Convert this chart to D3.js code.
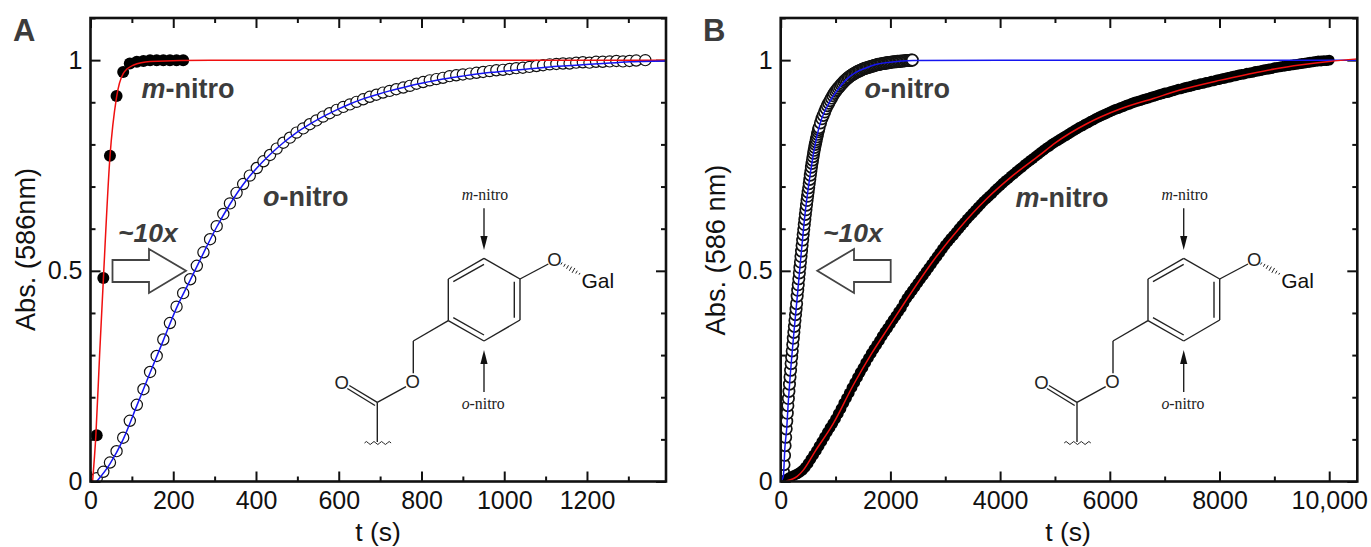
<!DOCTYPE html>
<html>
<head>
<meta charset="utf-8">
<script src="https://cdnjs.cloudflare.com/ajax/libs/d3/7.8.5/d3.min.js"></script>
<style>
  body { margin: 0; background: #fff; }
  svg { display: block; }
  text { font-family: "Liberation Sans", Arial, sans-serif; }
</style>
</head>
<body>
<div class="figure"></div>
<script>
// ---- panel A data
const aTicks = [0, 200, 400, 600, 800, 1000, 1200];
const aMinorTicks = [100, 300, 500, 700, 900, 1100, 1300];
const aTimeM = [15, 31, 47, 63, 79, 95, 112, 128, 144, 160, 176, 192, 208, 224];
const aAbsM = [.11, .483, .773, .915, .972, .992, .996, .998, 1, 1, 1, 1, 1, 1];
const aTimeO = [15, 31, 47, 63, 79, 95, 112, 128, 144, 160, 176, 192, 208, 224, 241, 257, 273, 289, 305, 321,
  337, 353, 369, 385, 402, 418, 434, 450, 466, 482, 498, 514, 530, 546, 562, 578, 595, 611, 627, 643,
  659, 675, 691, 707, 723, 739, 756, 772, 788, 804, 820, 836, 852, 868, 884, 900, 917, 933, 949, 965,
  981, 997, 1013, 1029, 1045, 1061, 1078, 1094, 1110, 1126, 1142, 1158, 1174, 1190, 1206, 1222, 1238, 1255, 1271, 1287,
  1303, 1319, 1341];
const aAbsO = [.008, .023, .045, .072, .104, .144, .182, .219, .26, .298, .337, .376, .415, .447, .48, .512, .544, .575, .606, .635,
  .660, .685, .706, .726, .744, .760, .775, .790, .804, .816, .828, .838, .848, .857, .866, .874, .882, .889, .895, .901,
  .907, .913, .918, .923, .927, .931, .935, .939, .944, .948, .952, .955, .958, .962, .964, .966, .968, .970, .972, .974,
  .976, .977, .979, .981, .982, .984, .986, .988, .990, .991, .992, .992, .994, .995, .994, .996, .996, .997, .998, .997,
  .998, .999, 1];
const aFitTimeM = [5, 13, 22, 31, 47, 63, 79, 103, 144, 290, 1390];
const aFitAbsM = [0, .11, .30, .478, .77, .912, .968, .988, .997, 1, 1];
const aFitTimeO = [15, 47, 79, 112, 144, 176, 208, 241, 273, 305, 337, 369, 402, 434, 466, 498, 530, 562, 595, 627,
  659, 691, 723, 756, 788, 820, 852, 884, 917, 949, 981, 1013, 1045, 1078, 1110, 1142, 1174, 1206, 1238, 1271, 1303, 1335, 1390];
const aFitAbsO = [0, .042, .100, .180, .258, .335, .412, .478, .542, .604, .658, .705, .744, .776, .804, .828, .848, .866, .882, .896,
  .908, .918, .927, .935, .943, .949, .955, .960, .965, .969, .972, .975, .978, .981, .984, .986, .988, .990, .992, .994, .996, .997, .998];

// ---- panel B data
const bTicks = [0, 2000, 4000, 6000, 8000, 10000];
const bMinorTicks = [1000, 3000, 5000, 7000, 9000];
// m-nitro sampled every 50 s, 0 to 10,000
const bStepM = 50;
const bAbsM = [0, .002, .005, .009, .012, .015, .018, .022, .027, .034, .043, .053, .063, .073, .084, .095, .106, .117, .128, .138,
  .149, .161, .173, .186, .198, .210, .223, .235, .247, .259, .270, .282, .293, .304, .314, .324, .334, .345, .355, .364,
  .374, .384, .393, .403, .412, .424, .435, .444, .453, .462, .471, .480, .489, .498, .507, .516, .525, .534, .543, .552,
  .561, .569, .577, .584, .592, .600, .608, .615, .623, .630, .637, .644, .651, .658, .665, .671, .677, .683, .690, .696,
  .702, .708, .714, .719, .725, .730, .736, .741, .746, .752, .757, .762, .767, .772, .777, .782, .787, .792, .796, .801,
  .805, .809, .813, .817, .821, .825, .829, .833, .837, .841, .844, .848, .851, .855, .858, .862, .865, .868, .871, .874,
  .877, .880, .883, .885, .888, .890, .893, .895, .898, .900, .902, .904, .906, .908, .910, .912, .914, .916, .918, .920,
  .922, .923, .925, .927, .929, .931, .932, .934, .936, .937, .939, .941, .942, .944, .945, .947, .948, .950, .951, .953,
  .954, .956, .957, .959, .960, .962, .963, .965, .966, .967, .969, .970, .971, .973, .974, .975, .977, .978, .979, .980,
  .982, .983, .984, .985, .986, .987, .988, .989, .990, .991, .992, .993, .994, .995, .996, .997, .998, .998, .999, .999, 1];
// o-nitro sampled every 10 s to 700 s, then every 25 s
const bTimeO = [...d3.range(0, 701, 10), ...d3.range(725, 2401, 25)];
const bAbsO = [0, .001, .003, .007, .012, .022, .040, .062, .085, .105, .125, .143, .162, .180, .197, .214, .231, .248, .264, .280,
  .295, .310, .325, .340, .354, .368, .382, .396, .409, .422, .440, .454, .467, .481, .495, .508, .521, .534, .547, .560,
  .573, .586, .598, .610, .622, .634, .645, .656, .667, .677, .687, .697, .707, .717, .727, .737, .746, .755, .763, .771,
  .779, .786, .793, .800, .806, .812, .818, .824, .830, .835, .840,
  .851, .861, .869, .877, .885, .892, .898, .904, .910, .916, .921, .926, .930, .934, .938, .942, .945, .949, .952, .955,
  .958, .960, .963, .965, .967, .969, .971, .973, .974, .976, .977, .979, .980, .981, .982, .983, .984, .985, .986, .987,
  .988, .989, .990, .990, .991, .992, .992, .993, .993, .994, .994, .995, .995, .996, .996, .996, .997, .997, .997, .998,
  .998, .998, .999, .999, .999, .999, 1, 1];
const bFitTimeO = [0, 47, 78, 109, 139, 170, 242, 303, 352, 443, 534, 594, 686, 747, 868, 959, 1081, 1203, 1385, 1568, 1750, 1993, 2412, 4000, 10512];
const bFitAbsO = [0, .012, .083, .125, .190, .245, .355, .440, .510, .634, .725, .775, .834, .861, .895, .915, .937, .955, .972, .982, .990, .995, .999, 1, 1];
const bFitTimeM = [100, 300, 412, 625, 960, 1324, 1659, 1993, 2297, 2782, 3269, 3756, 4241, 4727, 5000, 5579, 6186, 6794, 7280, 8000, 8500, 9000, 9500, 10000, 10512];
const bFitAbsM = [.001, .012, .027, .071, .138, .229, .304, .371, .432, .524, .603, .671, .727, .775, .803, .849, .884, .909, .929, .952, .966, .979, .989, .997, 1.003];

const yTicks = [0, 0.5, 1];
const yMinorTicks = [.1, .2, .3, .4, .6, .7, .8, .9, 1.1];
const yTickLabels = { 0: "0", 0.5: "0.5", 1: "1" };

const svgWidth = 1371;
const svgHeight = 547;
const plotTop = 18;
const plotBottom = 481.5;
const grey = "#3c3c3c";

const svg = d3.select(".figure")
    .append("svg")
    .attr("width", svgWidth)
    .attr("height", svgHeight);

// clip the points to the plot area so they stop at the frame
function addClip(id, x) {
    svg.append("clipPath").attr("id", id)
        .append("rect")
        .attr("x", x.range()[0]).attr("y", plotTop)
        .attr("width", x.range()[1] - x.range()[0]).attr("height", plotBottom - plotTop);
}

// inward ticks on all four sides
function drawAxes(g, x, y, ticks, minor, xFormat) {
    const [x0, x1] = x.range();
    const addAxis = (axis, tx, ty, values, size, fmt, padding) => {
        const a = g.append("g")
            .attr("transform", `translate(${tx},${ty})`)
            .call(axis.tickValues(values).tickSizeOuter(0).tickSizeInner(-size).tickPadding(padding).tickFormat(fmt));
        a.select(".domain").remove();
        a.selectAll("line").attr("stroke", "#111").attr("stroke-width", 2);
        a.selectAll("text").attr("font-size", 25).attr("fill", "#111")
            .style("font-family", '"Liberation Sans", Arial, sans-serif');
        return a;
    };
    addAxis(d3.axisBottom(x), 0, plotBottom, ticks, 10, xFormat, 9.5);
    addAxis(d3.axisBottom(x), 0, plotBottom, minor, 5, () => "", 9);
    addAxis(d3.axisTop(x), 0, plotTop, ticks, 10, () => "", 9);
    addAxis(d3.axisTop(x), 0, plotTop, minor, 5, () => "", 9);
    addAxis(d3.axisLeft(y), x0, 0, yTicks, 10, d => yTickLabels[d], 8);
    addAxis(d3.axisLeft(y), x0, 0, yMinorTicks, 5, () => "", 8);
    addAxis(d3.axisRight(y), x1, 0, yTicks, 10, () => "", 8);
    addAxis(d3.axisRight(y), x1, 0, yMinorTicks, 5, () => "", 8);
}

function drawFrame(g, x) {
    const [x0, x1] = x.range();
    g.append("rect")
        .attr("x", x0).attr("y", plotTop)
        .attr("width", x1 - x0).attr("height", plotBottom - plotTop)
        .attr("fill", "none").attr("stroke", "#111").attr("stroke-width", 2.6);
}

function drawPoints(g, x, y, times, values, fill, r, strokeWidth, clipId) {
    g.append("g")
        .attr("clip-path", `url(#${clipId})`)
        .selectAll("circle")
        .data(d3.zip(times, values))
        .enter()
        .append("circle")
        .attr("cx", d => x(d[0]))
        .attr("cy", d => y(d[1]))
        .attr("r", r)
        .attr("fill", fill)
        .attr("stroke", "#111")
        .attr("stroke-width", strokeWidth);
}

function drawFit(g, x, y, times, values, color) {
    const line = d3.line()
        .x(d => x(d[0]))
        .y(d => y(d[1]))
        .curve(d3.curveMonotoneX);
    g.append("path")
        .attr("d", line(d3.zip(times, values)))
        .attr("fill", "none")
        .attr("stroke", color)
        .attr("stroke-width", 1.5);
}

function label(g, str, px, py, size, weight, style, fill, anchor) {
    return g.append("text")
        .text(str)
        .attr("x", px).attr("y", py)
        .attr("font-size", size)
        .attr("font-weight", weight)
        .attr("font-style", style)
        .attr("fill", fill)
        .attr("text-anchor", anchor || "start");
}

// bold italic prefix + bold rest, e.g. m-nitro
function nitroLabel(g, prefix, px, py) {
    const t = g.append("text").attr("x", px).attr("y", py)
        .attr("font-size", 27).attr("font-weight", "bold").attr("fill", grey);
    t.append("tspan").attr("font-style", "italic").text(prefix);
    t.append("tspan").text("-nitro");
}

function drawArrow(g, pts) {
    g.append("path")
        .attr("d", d3.line()(pts) + "Z")
        .attr("fill", "white")
        .attr("stroke", "#444")
        .attr("stroke-width", 1.8)
        .attr("stroke-linejoin", "miter");
}

// the little molecule, drawn in panel A coordinates and shifted for panel B
function drawMolecule(g, dx) {
    const s = g.append("g").attr("transform", `translate(${dx},0)`);
    const bonds = [
        [484, 258.3, 520, 279], [520, 279, 520, 320], [520, 320, 484, 341],
        [484, 341, 448.3, 320.7], [448.3, 320.7, 448.3, 279], [448.3, 279, 484, 258.3],
        [453.3, 281.7, 484, 264.3], [514.3, 281.7, 514.3, 317.7], [453.3, 317.7, 484, 335],
        [520, 279, 548.3, 264],
        [448.3, 320.7, 413.3, 341], [413.3, 341, 413.3, 373.3],
        [406, 386.7, 377.3, 402.3],
        [377.3, 402.3, 349.3, 385.5], [375, 405.5, 347.3, 388.5],
        [377.3, 402.3, 377.3, 442],
        [484, 208.3, 484, 240], [484, 392, 484, 360]
    ];
    s.selectAll("line.bond")
        .data(bonds)
        .enter()
        .append("line")
        .attr("class", "bond")
        .attr("x1", d => d[0]).attr("y1", d => d[1])
        .attr("x2", d => d[2]).attr("y2", d => d[3])
        .attr("stroke", "#222")
        .attr("stroke-width", 1.4);

    // arrow heads
    s.append("path").attr("d", "M480.4,236L487.6,236L484,250Z").attr("fill", "#111");
    s.append("path").attr("d", "M480.4,364L487.6,364L484,350Z").attr("fill", "#111");

    // hashed bond to Gal
    const hash = [[561.5, 263.5, 1.2], [564.5, 265.3, 1.6], [567.5, 267, 2], [570.5, 268.7, 2.4], [573.5, 270.4, 2.8], [576.5, 272.1, 1.6], [579.5, 273.8, 1]];
    s.selectAll("line.hash")
        .data(hash)
        .enter()
        .append("line")
        .attr("class", "hash")
        .attr("x1", d => d[0] + d[2] * 0.5).attr("y1", d => d[1] - d[2] * 0.87)
        .attr("x2", d => d[0] - d[2] * 0.5).attr("y2", d => d[1] + d[2] * 0.87)
        .attr("stroke", "#222")
        .attr("stroke-width", 1);

    // wavy cut line under the stem
    const wave = "M364.5,443" + d3.range(7).map(i => `q1.9,${i % 2 ? 3 : -3} 3.8,0`).join("");
    s.append("path").attr("d", wave).attr("fill", "none").attr("stroke", "#222").attr("stroke-width", 1);

    label(s, "O", 554.5, 265.5, 18.5, "normal", "normal", "#222", "middle");
    label(s, "O", 412.7, 388, 18.5, "normal", "normal", "#222", "middle");
    label(s, "O", 341.7, 388.8, 18.5, "normal", "normal", "#222", "middle");
    label(s, "Gal", 581.5, 287.7, 21, "normal", "normal", "#111");

    const serif = '"Liberation Serif", "Times New Roman", serif';
    const m = label(s, "", 461.7, 200, 15.8, "normal", "normal", "#222").style("font-family", serif);
    m.append("tspan").attr("font-style", "italic").text("m");
    m.append("tspan").text("-nitro");
    const o = label(s, "", 461.7, 409.3, 15.8, "normal", "normal", "#222").style("font-family", serif);
    o.append("tspan").attr("font-style", "italic").text("o");
    o.append("tspan").text("-nitro");
}

function yLabel(g, str, px, py) {
    g.append("text")
        .text(str)
        .attr("transform", `translate(${px},${py}) rotate(-90)`)
        .attr("text-anchor", "middle")
        .attr("font-size", 27.2)
        .attr("fill", "#111");
}

// ---- panel A
const y = d3.scaleLinear().domain([0, 1.1]).range([plotBottom, plotTop]);
const xA = d3.scaleLinear().domain([0, 1391]).range([90.5, 666]);
addClip("clip-a", xA);
const panelA = svg.append("g");
drawAxes(panelA, xA, y, aTicks, aMinorTicks, d3.format("d"));
drawPoints(panelA, xA, y, aTimeM, aAbsM, "#000", 6, 0, "clip-a");
drawPoints(panelA, xA, y, aTimeO, aAbsO, "white", 5.6, 1.2, "clip-a");
drawFit(panelA, xA, y, aFitTimeM, aFitAbsM, "#f01010");
drawFit(panelA, xA, y, aFitTimeO, aFitAbsO, "#1515f0");
drawFrame(panelA, xA);
label(panelA, "A", 13, 41, 31, "bold", "normal", grey);
nitroLabel(panelA, "m", 141.5, 97.7);
nitroLabel(panelA, "o", 263, 205.5);
label(panelA, "~10x", 118, 241.5, 26.5, "bold", "italic", grey);
drawArrow(panelA, [[112.5, 260], [149, 260], [149, 249], [186, 270.7], [149, 293], [149, 282], [112.5, 282]]);
label(panelA, "t (s)", 378, 541, 26.5, "normal", "normal", "#111", "middle");
yLabel(panelA, "Abs. (586nm)", 34.5, 249.5);
drawMolecule(panelA, 0);

// ---- panel B
const xB = d3.scaleLinear().domain([0, 10512]).range([780.7, 1357.3]);
addClip("clip-b", xB);
const panelB = svg.append("g");
drawAxes(panelB, xB, y, bTicks, bMinorTicks, d => d === 10000 ? "10,000" : d3.format("d")(d));
drawPoints(panelB, xB, y, bTimeO, bAbsO, "white", 5.7, 1.7, "clip-b");
drawPoints(panelB, xB, y, bAbsM.map((d, i) => i * bStepM), bAbsM, "#000", 5.4, 0, "clip-b");
drawFit(panelB, xB, y, bFitTimeO, bFitAbsO, "#1515f0");
drawFit(panelB, xB, y, bFitTimeM, bFitAbsM, "#f01010");
drawFrame(panelB, xB);
label(panelB, "B", 703, 41, 31, "bold", "normal", grey);
nitroLabel(panelB, "o", 864.5, 98);
nitroLabel(panelB, "m", 1015.5, 206.5);
label(panelB, "~10x", 823, 241.5, 26.5, "bold", "italic", grey);
drawArrow(panelB, [[890.7, 260], [854, 260], [854, 249], [817.3, 270.7], [854, 293], [854, 282], [890.7, 282]]);
label(panelB, "t (s)", 1068, 541, 26.5, "normal", "normal", "#111", "middle");
yLabel(panelB, "Abs. (586 nm)", 725, 250);
drawMolecule(panelB, 699.7);
</script>
</body>
</html>
